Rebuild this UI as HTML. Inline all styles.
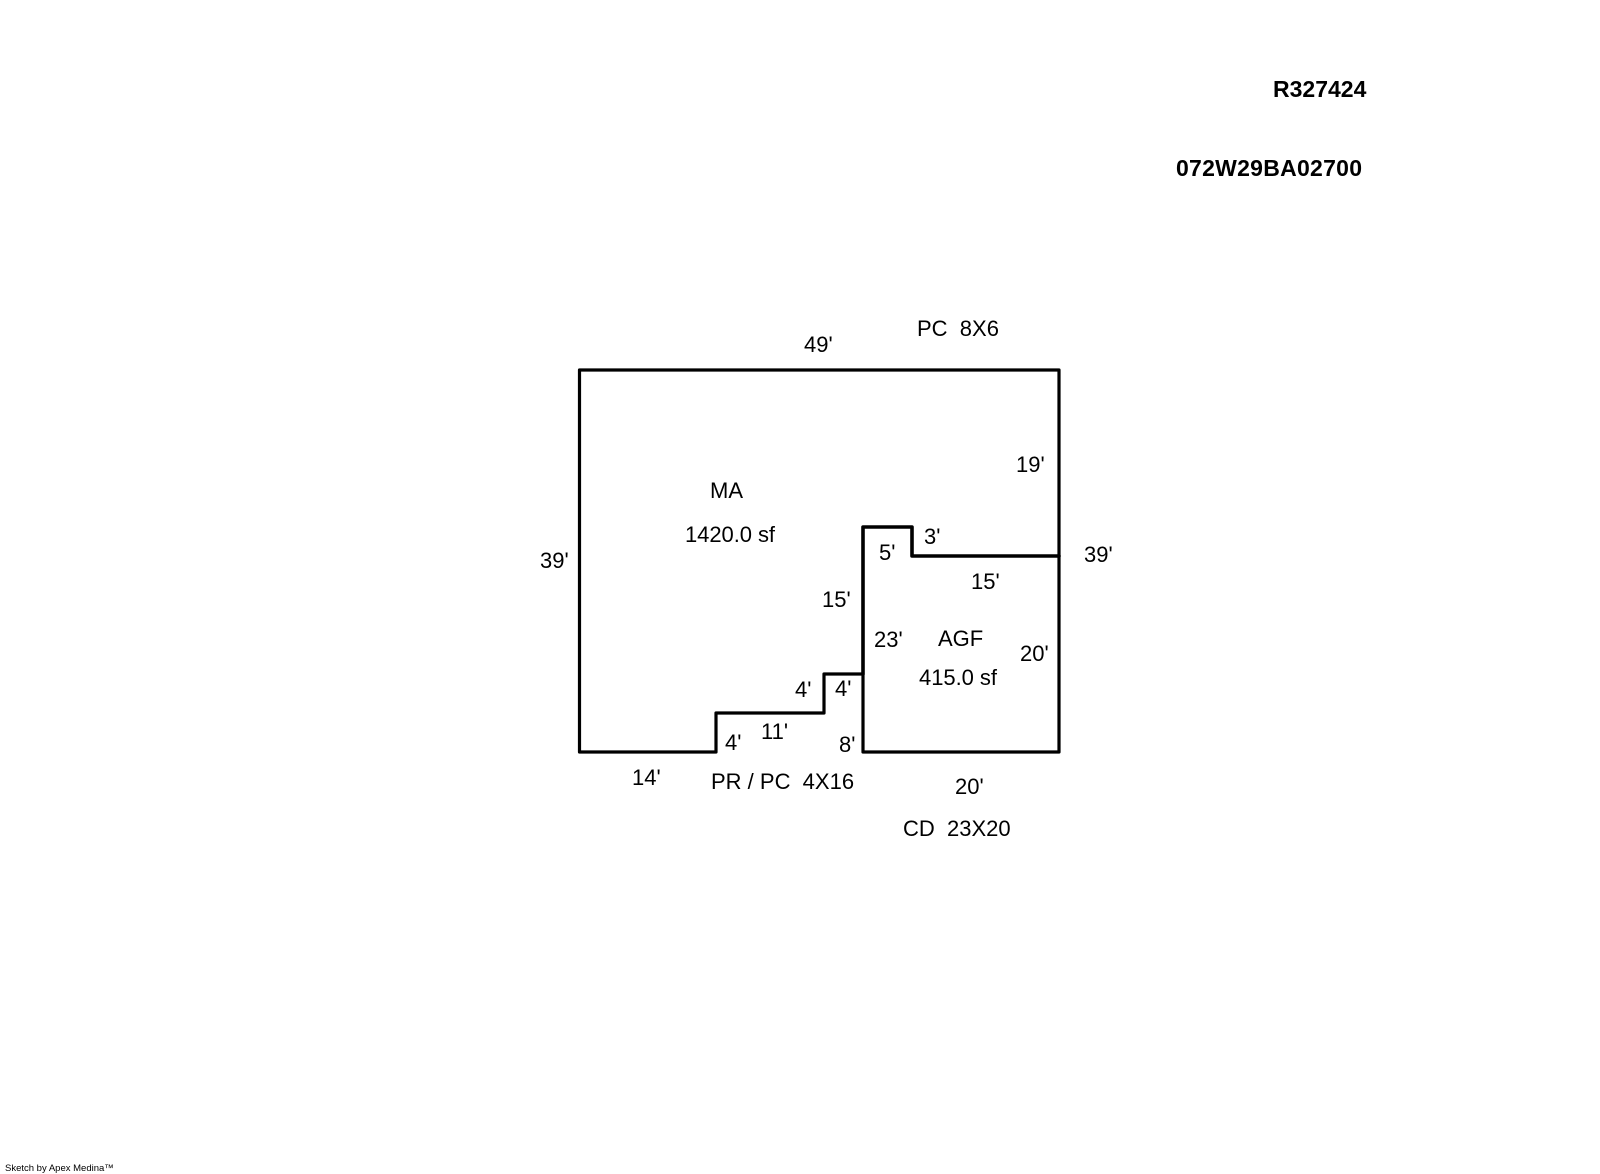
<!DOCTYPE html>
<html lang="en">
<head>
<meta charset="utf-8">
<title>Sketch</title>
<style>
html,body{margin:0;padding:0;background:#fff;}
svg{display:block;}
text{font-family:"Liberation Sans",Arial,sans-serif;font-size:22px;fill:#000;white-space:pre;}
.b{font-weight:bold;font-size:23px;}
.f{font-size:9.5px;}
</style>
</head>
<body>
<svg width="1600" height="1174" viewBox="0 0 1600 1174" xmlns="http://www.w3.org/2000/svg">
<rect width="1600" height="1174" fill="#fff"/>
<g fill="none" stroke="#000" stroke-width="3.2" stroke-linejoin="round" stroke-linecap="round">
<path d="M579.5 370V752H716V713H824V674H863V752H1059V370H579.5"/>
<path d="M863 674V527H912V556H1059" stroke-width="3.6"/>
</g>
<text class="b" x="1273" y="97">R327424</text>
<text class="b" x="1176" y="176" textLength="186">072W29BA02700</text>
<text x="917" y="336" xml:space="preserve">PC  8X6</text>
<text x="804" y="352">49'</text>
<text x="1016" y="472">19'</text>
<text x="710" y="498">MA</text>
<text x="685" y="542" textLength="90">1420.0 sf</text>
<text x="924" y="544">3'</text>
<text x="879" y="560">5'</text>
<text x="540" y="568">39'</text>
<text x="1084" y="562">39'</text>
<text x="971" y="589">15'</text>
<text x="822" y="607">15'</text>
<text x="874" y="647">23'</text>
<text x="938" y="646">AGF</text>
<text x="1020" y="661">20'</text>
<text x="919" y="685" textLength="78">415.0 sf</text>
<text x="835" y="696">4'</text>
<text x="795" y="697">4'</text>
<text x="725" y="750">4'</text>
<text x="761" y="739">11'</text>
<text x="839" y="752">8'</text>
<text x="632" y="785">14'</text>
<text x="711" y="789" xml:space="preserve">PR / PC  4X16</text>
<text x="955" y="794">20'</text>
<text x="903" y="836" xml:space="preserve">CD  23X20</text>
<text class="f" x="5" y="1171">Sketch by Apex Medina™</text>
</svg>
</body>
</html>
